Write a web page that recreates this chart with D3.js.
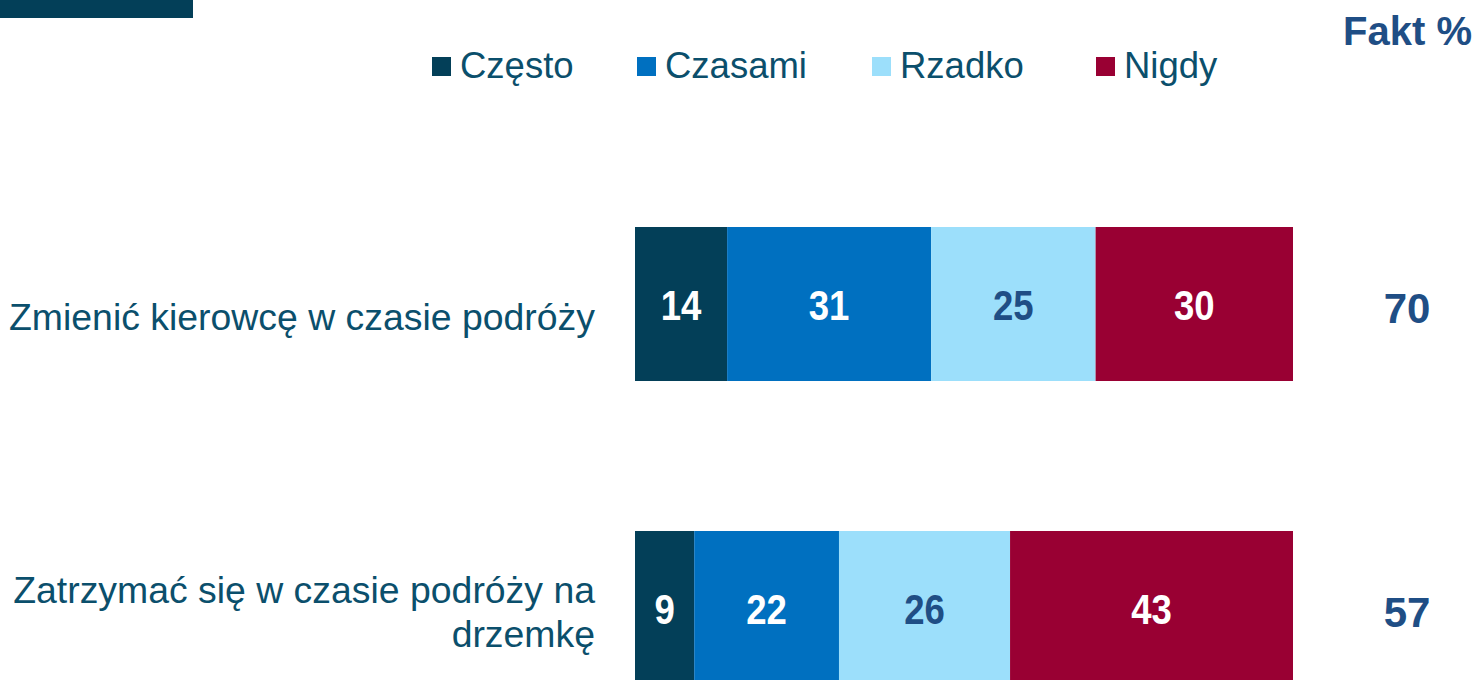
<!DOCTYPE html>
<html>
<head>
<meta charset="utf-8">
<script src="https://cdn.jsdelivr.net/npm/d3@7"></script>
<style>
  body { margin: 0; background: #fff; }
  svg { display: block; }
</style>
</head>
<body>
<div id="chart"></div>
<script>
// data
let categories = ["Zmienić kierowcę w czasie podróży", "Zatrzymać się w czasie podróży na drzemkę"]
let categoryLines = [["Zmienić kierowcę w czasie podróży"], ["Zatrzymać się w czasie podróży na", "drzemkę"]]
let seriesNames = ["Często", "Czasami", "Rzadko", "Nigdy"]
let czesto = [14, 9]
let czasami = [31, 22]
let rzadko = [25, 26]
let nigdy = [30, 43]
let fakt = [70, 57]

let colors = ["#033f58", "#0070c0", "#9cdffb", "#990033"]
let labelColors = ["#ffffff", "#ffffff", "#1f4e85", "#ffffff"]

let width = 1478
let height = 680

let svg = d3.select("#chart")
    .append("svg")
    .attr("width", width)
    .attr("height", height)

// build rows for the stack
let rows = categories.map((c, i) => ({
    cat: c,
    "Często": czesto[i],
    "Czasami": czasami[i],
    "Rzadko": rzadko[i],
    "Nigdy": nigdy[i]
}))

let stack = d3.stack().keys(seriesNames)
let layers = stack(rows)

let x = d3.scaleLinear().domain([0, 100]).range([635, 1293])
let y = d3.scaleBand().domain(categories).range([227, 685]).paddingInner(0.4934).paddingOuter(0)

let color = d3.scaleOrdinal().domain(seriesNames).range(colors)
let labelColor = d3.scaleOrdinal().domain(seriesNames).range(labelColors)

// little bar in the top left corner
svg.append("rect")
    .attr("x", 0).attr("y", 0)
    .attr("width", 193).attr("height", 18)
    .attr("fill", "#033f58")

// legend
let legendX = [432, 637, 872, 1096]
let legend = svg.append("g")
    .selectAll("g")
    .data(seriesNames)
    .enter()
    .append("g")
    .attr("transform", (d, i) => "translate(" + legendX[i] + ",0)")
legend.append("rect")
    .attr("x", 0).attr("y", 57)
    .attr("width", 19).attr("height", 19)
    .attr("fill", d => color(d))
legend.append("text")
    .attr("x", 28).attr("y", 78)
    .attr("font-family", "'Liberation Sans', Arial, sans-serif")
    .attr("font-size", 36.5)
    .attr("fill", "#0b4f6c")
    .text(d => d)

// header on the right
svg.append("text")
    .attr("x", 1472).attr("y", 45)
    .attr("text-anchor", "end")
    .attr("font-family", "'Liberation Sans', Arial, sans-serif")
    .attr("font-weight", "bold")
    .attr("font-size", 40)
    .attr("fill", "#1f4e85")
    .text("Fakt %")

// bars
let groups = svg.append("g")
    .selectAll("g")
    .data(layers)
    .enter()
    .append("g")
    .attr("fill", d => color(d.key))

groups.selectAll("rect")
    .data(d => d.map(p => ({ key: d.key, p: p })))
    .enter()
    .append("rect")
    .attr("x", d => x(d.p[0]))
    .attr("y", d => y(d.p.data.cat))
    .attr("width", d => x(d.p[1]) - x(d.p[0]))
    .attr("height", y.bandwidth())

// value labels inside the bars
groups.selectAll("text")
    .data(d => d.map(p => ({ key: d.key, p: p })))
    .enter()
    .append("text")
    .attr("transform", d => "translate(" + (x(d.p[0]) + x(d.p[1])) / 2 + "," + (y(d.p.data.cat) + y.bandwidth() / 2 + 16) + ") scale(0.87,1)")
    .attr("text-anchor", "middle")
    .attr("font-family", "'Liberation Sans', Arial, sans-serif")
    .attr("font-weight", "bold")
    .attr("font-size", 42)
    .attr("fill", d => labelColor(d.key))
    .text(d => d.p[1] - d.p[0])

// category labels on the left
let catLabels = svg.append("g")
    .selectAll("text")
    .data(categories)
    .enter()
    .append("text")
    .attr("text-anchor", "end")
    .attr("font-family", "'Liberation Sans', Arial, sans-serif")
    .attr("font-size", 37.4)
    .attr("fill", "#0b4f6c")

catLabels.each(function (d, i) {
    let lines = categoryLines[i]
    let mid = y(d) + y.bandwidth() / 2
    let first = lines.length == 1 ? mid + 26 : mid - 5
    d3.select(this).selectAll("tspan")
        .data(lines)
        .enter()
        .append("tspan")
        .attr("x", 595)
        .attr("y", (l, j) => first + j * 44)
        .text(l => l)
})

// Fakt % column
svg.append("g")
    .selectAll("text")
    .data(categories)
    .enter()
    .append("text")
    .attr("x", 1407)
    .attr("y", d => y(d) + y.bandwidth() / 2 + 19)
    .attr("text-anchor", "middle")
    .attr("font-family", "'Liberation Sans', Arial, sans-serif")
    .attr("font-weight", "bold")
    .attr("font-size", 42)
    .attr("fill", "#1f4e85")
    .text((d, i) => fakt[i])
</script>
</body>
</html>
